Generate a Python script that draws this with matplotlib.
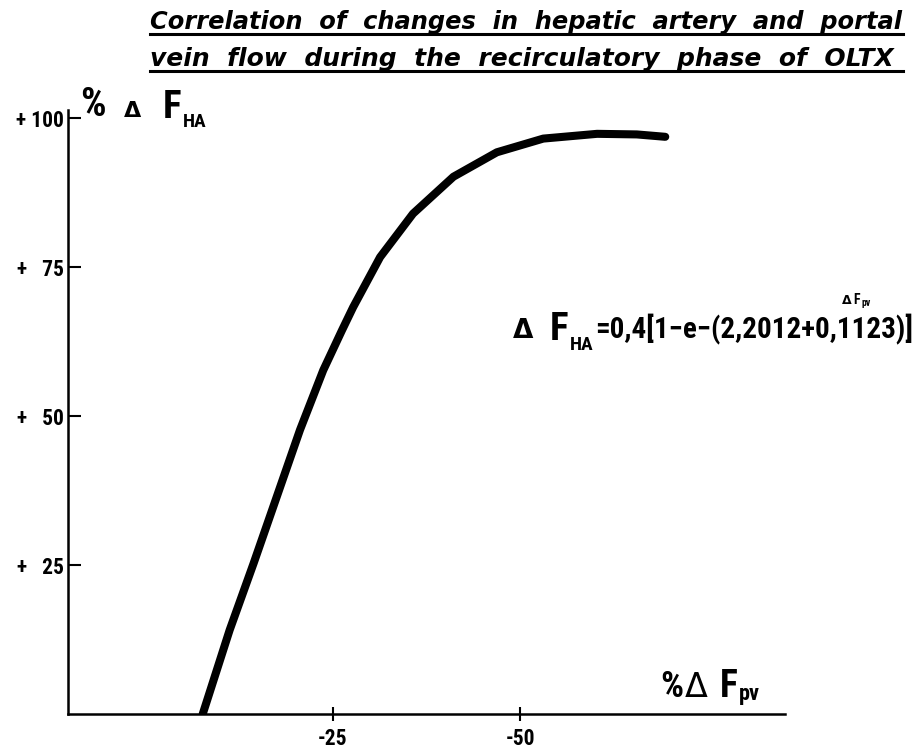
import matplotlib
matplotlib.use("Agg")
import matplotlib.pyplot as plt
from matplotlib import font_manager as fm
from matplotlib.font_manager import FontProperties
from matplotlib.lines import Line2D

# ---- data ----
fpv = [-7.6, -11.2, -14.4, -17.5, -20.6, -23.7, -26.2, -27.7, -31.3, -35.7,
       -41.1, -46.9, -53.1, -60.3, -65.6, -69.4]
fha = [0.0, 14.1, 25.3, 36.5, 47.7, 57.7, 64.4, 68.3, 76.7, 84.0,
       90.2, 94.3, 96.6, 97.4, 97.3, 96.9]
x_ticks = [-25, -50]
x_tick_labels = ["-25", "-50"]
y_ticks = [25, 50, 75, 100]
y_tick_labels = ["+   25", "+   50", "+   75", "+ 100"]
title_lines = ["Correlation  of  changes  in  hepatic  artery  and  portal",
               "vein  flow  during  the  recirculatory  phase  of  OLTX"]
equation = "=0,4[1−e−(2,2012+0,1123)]"

W, H, DPI = 918, 751, 100
PX2PT = 72 / DPI
CAPR = 0.72


# ---- fonts: prefer a condensed / narrow sans if one is installed ----
def is_narrow(f):
    n = (f.name + " " + f.fname).lower()
    return (f.stretch in ("condensed", "semi-condensed", "extra-condensed")
            or "narrow" in n or "condensed" in n)


def wnum(w):
    try:
        return int(w)
    except Exception:
        return 700 if "bold" in str(w).lower() else 400


pref = ["liberation sans narrow", "noto sans", "roboto", "open sans", "dejavu sans"]


def pick(bold):
    cands = []
    for f in fm.fontManager.ttflist:
        if not is_narrow(f) or f.style != "normal":
            continue
        w = wnum(f.weight)
        if bold and not (600 <= w <= 800):
            continue
        if not bold and not (350 <= w <= 500):
            continue
        nm = f.name.lower()
        rank = next((i for i, p in enumerate(pref) if nm.startswith(p)), 99)
        if "mono" in nm or "serif" in nm or "display" in nm:
            rank += 50
        cands.append((rank, f.fname))
    if cands:
        cands.sort()
        return FontProperties(fname=cands[0][1])
    return FontProperties(family=["DejaVu Sans"], weight="bold" if bold else "normal")


FP_BOLD = pick(True)
FP_REG = pick(False)
NARROW = FP_BOLD.get_file() is not None
FP_DELTA_B = FontProperties(family=["DejaVu Sans"], weight="bold")
FP_DELTA_R = FontProperties(family=["DejaVu Sans"], weight="normal")


def fx(px):
    return px / W


def fy(py):
    return 1 - py / H


fig = plt.figure(figsize=(W / DPI, H / DPI), dpi=DPI)
fig.patch.set_facecolor("white")

ax = fig.add_axes([fx(68), fy(714), (785 - 68) / W, (714 - 110) / H])
ax.plot(fpv, fha, color="black", lw=5.8, solid_capstyle="round",
        solid_joinstyle="round")
ax.set_xlim(10.4, -85.4)
ax.set_ylim(0, 101.4)
for s in ["top", "right"]:
    ax.spines[s].set_visible(False)
for s in ["left", "bottom"]:
    ax.spines[s].set_linewidth(1.8)
ax.set_xticks(x_ticks, x_tick_labels)
ax.set_yticks(y_ticks, y_tick_labels)
ax.tick_params(axis="x", direction="inout", length=10, width=1.5, pad=5)
ax.tick_params(axis="y", direction="in", length=9, width=1.5, pad=3)
tick_fp = FP_BOLD.copy()
tick_fp.set_size(15.5 if NARROW else 12)
for lbl in ax.get_xticklabels() + ax.get_yticklabels():
    lbl.set_fontproperties(tick_fp)

fig.canvas.draw()
R = fig.canvas.get_renderer()


def piece(s, x0, base, cap, bold=True, maxw=None, fp=None):
    if fp is None:
        fp = FP_BOLD if bold else FP_REG
    fp = fp.copy()
    fs = cap / CAPR * PX2PT
    fp.set_size(fs)
    t = fig.text(fx(x0), fy(base), s, ha="left", va="baseline", fontproperties=fp)
    bb = t.get_window_extent(renderer=R)
    if maxw is not None and bb.width > maxw:
        t.set_fontsize(fs * maxw / bb.width)
        bb = t.get_window_extent(renderer=R)
    return bb.x1


# y-axis label  % Δ F_HA
piece("%", 80, 116, 29, maxw=34)
piece("Δ", 124, 117, 16, fp=FP_DELTA_B)
e = piece("F", 163, 118, 28)
piece("HA", e + 1, 127, 14)

# x-axis label  %ΔF_pv
e = piece("%", 660, 697, 26, maxw=24)
e = piece("Δ", max(683, e + 2), 697, 24, fp=FP_DELTA_R)
e = piece("F", max(720, e + 2), 697, 27)
piece("pv", e + 1, 700, 16)

# equation
piece("Δ", 513, 338, 19, fp=FP_DELTA_B)
e = piece("F", 550, 340, 28)
e = piece("HA", e + 1, 350, 14)
eq_end = piece(equation, e + 2, 338, 23, maxw=913 - (e + 2))
e = piece("Δ", eq_end - 71, 304, 9, fp=FP_DELTA_B)
e = piece("F", e + 2, 304, 10)
piece("pv", e + 1, 306, 7)

# title (bold italic, underlined)
for txt, base, x1 in [(title_lines[0], 29, 903), (title_lines[1], 66, 893)]:
    t = fig.text(fx(150), fy(base), txt, ha="left", va="baseline", fontsize=20,
                 family=["DejaVu Sans"], weight="bold", style="italic")
    w = t.get_window_extent(renderer=R).width
    t.set_fontsize(20 * (x1 - 150) / w)
for yy in (33.5, 70.5):
    fig.add_artist(Line2D([fx(150), fx(903)], [fy(yy), fy(yy)],
                          transform=fig.transFigure, color="black", lw=2.2))

fig.savefig("out.png", dpi=DPI, facecolor="white")
